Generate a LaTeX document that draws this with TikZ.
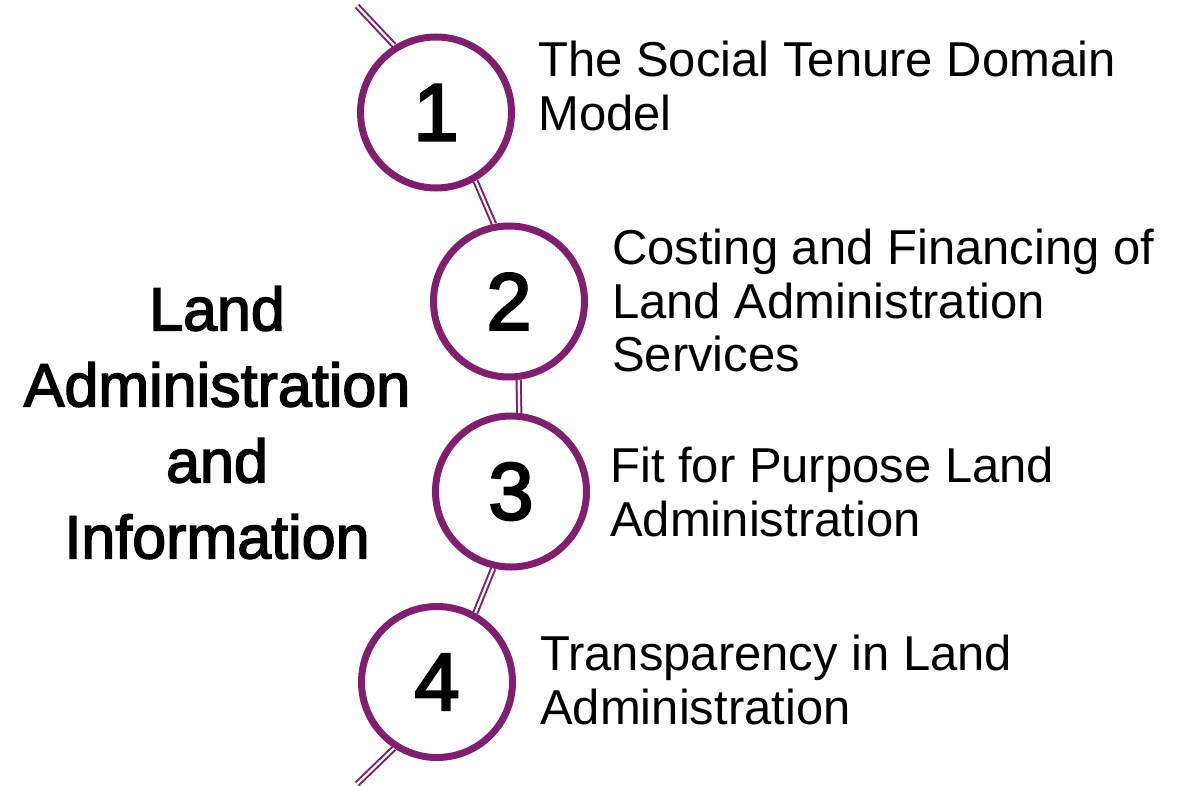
\documentclass[tikz,border=0pt]{standalone}
\usepackage{fontspec}
\setmainfont{Liberation Sans}
\newfontfamily\titlefont[FakeBold=2.5]{Liberation Sans}
\newfontfamily\numfont[FakeBold=3]{Liberation Sans}
\definecolor{lapurple}{RGB}{128,31,112}
\begin{document}
\begin{tikzpicture}[x=1pt,y=-1pt,
  stage/.style={circle, draw=lapurple, line width=7pt, fill=white, minimum size=151pt, inner sep=0pt, font=\numfont\fontsize{81}{81}\selectfont},
  linkline/.style={draw=lapurple, line width=2pt, double=white, double distance=2.2pt},
  desc/.style={anchor=north west, align=left, inner sep=0pt, font=\fontsize{49}{53.5}\selectfont},
  headline/.style={anchor=north, align=center, inner sep=0pt, font=\titlefont\fontsize{61}{76}\selectfont}]
\useasboundingbox (0,0) rectangle (1198,786);
\node[stage] (c1) at (436,112.5) {1};
\node[stage] (c2) at (509,301.5) {2};
\node[stage] (c3) at (511,491.5) {3};
\node[stage] (c4) at (437,682) {4};
\coordinate (top) at (357,6);
\coordinate (bot) at (357,784);
\draw[linkline] (top) -- (c1.122);
\draw[linkline] (c1.-60) -- (c2.101);
\draw[linkline] (c2.-83) -- (c3.84);
\draw[linkline] (c3.-103) -- (c4.61);
\draw[linkline] (c4.237) -- (bot);
\node[desc] (t1) at (538,41) {The Social Tenure Domain\\Model};
\node[desc] (t2) at (612,229) {Costing and Financing of\\Land Administration\\Services};
\node[desc] (t3) at (610,447) {Fit for Purpose Land\\Administration};
\node[desc] (t4) at (540,635) {Transparency in Land\\Administration};
\node[headline] (title) at (217,286) {Land\\Administration\\and\\Information};
\end{tikzpicture}
\end{document}
